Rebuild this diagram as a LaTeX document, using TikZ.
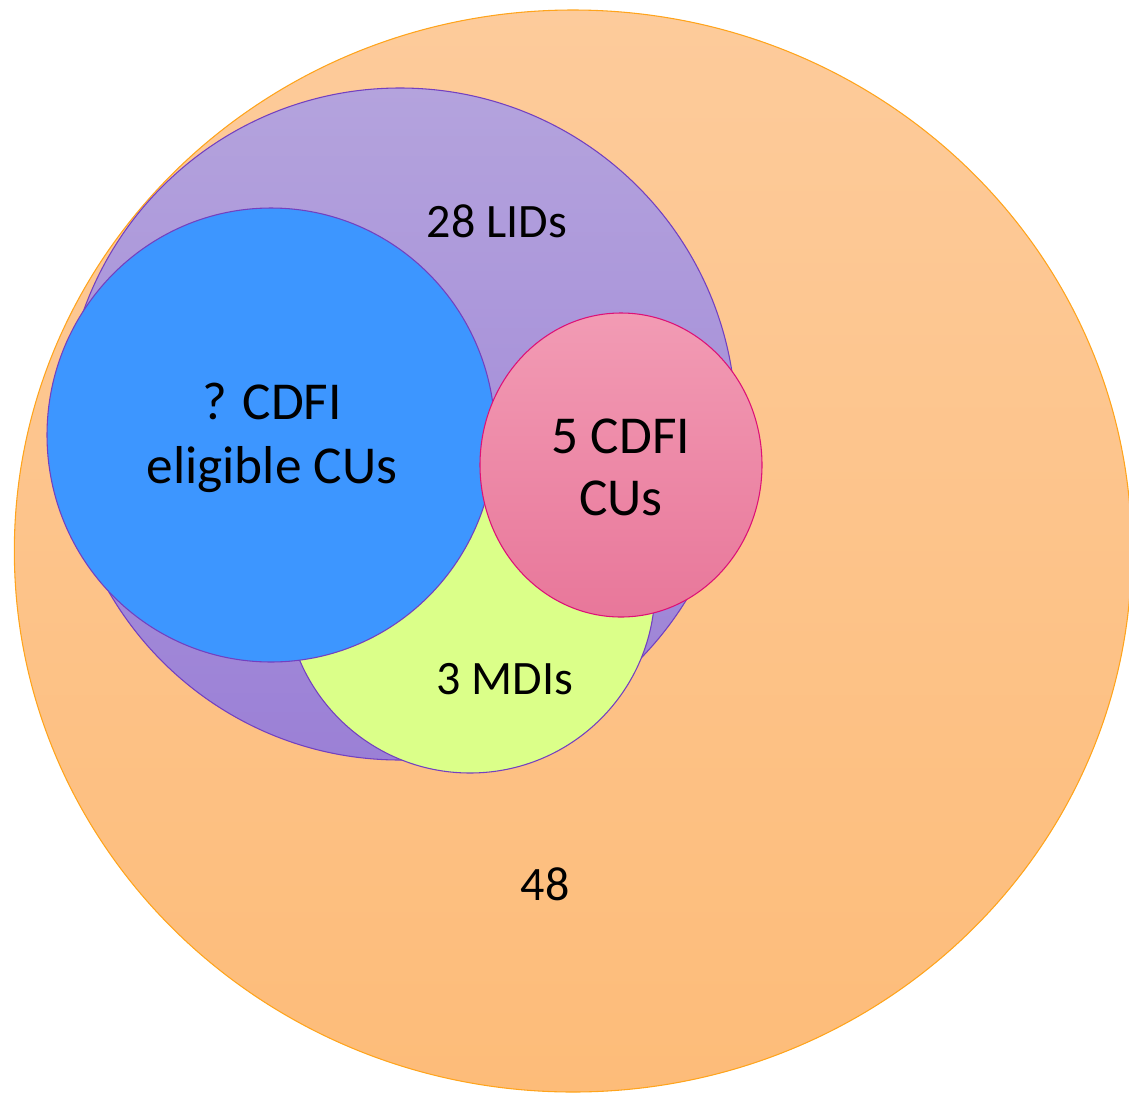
\documentclass[tikz,border=0pt]{standalone}
\usepackage{fontspec}
\setmainfont{Carlito}
\usetikzlibrary{shapes.geometric}

\definecolor{orangefill}{HTML}{FDCB9B}
\definecolor{orangefillb}{HTML}{FDBC79}
\definecolor{orangeline}{HTML}{FFA41C}
\definecolor{lidtop}{HTML}{B4A3DD}
\definecolor{lidbot}{HTML}{9B80D6}
\definecolor{lidline}{HTML}{7340C0}
\definecolor{cdfiblue}{HTML}{3D96FF}
\definecolor{mdigreen}{HTML}{DBFF89}
\definecolor{cutop}{HTML}{F29BB4}
\definecolor{cubot}{HTML}{E8779A}
\definecolor{culine}{HTML}{DD1177}

\begin{document}
\begin{tikzpicture}[x=0.75pt, y=-0.75pt, line width=0.8pt,
    set/.style = {ellipse, inner sep=0pt},
    lbl/.style = {align=center, inner sep=0pt, text=black}]
    \useasboundingbox (0,0) rectangle (1129,1093);
    % sets, back to front
    \node[set, minimum width=838pt, minimum height=811.5pt, top color=orangefill, bottom color=orangefillb, draw=orangeline] (all) at (573,551) {};
    \node[set, minimum width=504pt, minimum height=504pt, top color=lidtop, bottom color=lidbot, draw=lidline] (lid) at (400,424) {};
    \node[set, minimum width=277.5pt, minimum height=277.5pt, fill=mdigreen, draw=lidline] (mdi) at (470,588) {};
    \node[set, minimum width=336pt, minimum height=340.5pt, fill=cdfiblue, draw=lidline] (elig) at (271,435) {};
    \node[set, minimum width=211.5pt, minimum height=228pt, top color=cutop, bottom color=cubot, draw=culine] (cu) at (621,465) {};
    % labels
    \node[lbl, font=\fontsize{36}{43}\selectfont] (alltxt) at (545,884) {48};
    \node[lbl, font=\fontsize{36}{43}\selectfont] (lidtxt) at (497,221) {28 LIDs};
    \node[lbl, font=\fontsize{36}{43}\selectfont] (mditxt) at (505,679) {3 MDIs};
    \node[lbl, font=\fontsize{40}{48}\selectfont] (eligtxt) at (272,438) {? CDFI\\eligible CUs};
    \node[lbl, font=\fontsize{40}{46.5}\selectfont] (cutxt) at (621,467) {5 CDFI\\CUs};
\end{tikzpicture}
\end{document}
